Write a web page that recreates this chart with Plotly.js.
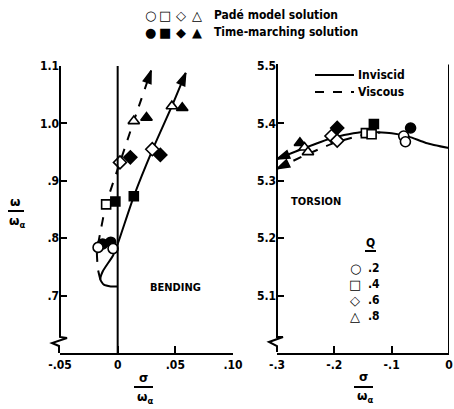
<!DOCTYPE html>
<html>
<head>
<meta charset="utf-8">
<script src="https://cdn.plot.ly/plotly-3.0.1.min.js"></script>
<style>html,body{margin:0;padding:0;background:#fff;}#chart{width:454px;height:409px;}</style>
</head>
<body>
<div id="chart"></div>
<script>
// ---------- data ----------
// Bending panel (x = sigma/omega_alpha, y = omega/omega_alpha)
const bendInvX = [0.000, -0.006, -0.012, -0.015, -0.013, -0.004, 0.000, 0.014, 0.030, 0.047, 0.059];
const bendInvY = [0.716, 0.716, 0.719, 0.728, 0.742, 0.770, 0.790, 0.873, 0.953, 1.030, 1.088];
const bendVisX = [-0.015, -0.017, -0.018, -0.016, -0.010, 0.002, 0.014, 0.029];
const bendVisY = [0.728, 0.745, 0.777, 0.800, 0.859, 0.932, 1.004, 1.092];

// Torsion panel
const torInvX = [-0.300, -0.250, -0.200, -0.150, -0.100, -0.070, -0.040, 0.000];
const torInvY = [5.338, 5.358, 5.376, 5.385, 5.383, 5.377, 5.366, 5.357];
const torVisX = [-0.300, -0.250, -0.200, -0.150, -0.120];
const torVisY = [5.321, 5.345, 5.366, 5.380, 5.384];

// Q values and symbols
const qLabels = [".2", ".4", ".6", ".8"];
const qSymbols = ["circle", "square", "diamond", "triangle-up"];

// Padé model solution (open) – bending
const padeBendX = [[-0.017, -0.004], [-0.010], [0.002, 0.030], [0.014, 0.047]];
const padeBendY = [[0.784, 0.782], [0.859], [0.932, 0.955], [1.004, 1.030]];
// Time-marching solution (filled) – bending
const timeBendX = [[-0.013, -0.006], [-0.002, 0.014], [0.011, 0.037], [0.025, 0.056]];
const timeBendY = [[0.790, 0.793], [0.864, 0.873], [0.941, 0.945], [1.010, 1.027]];

// Padé – torsion
const padeTorX = [[-0.079, -0.076], [-0.145, -0.135], [-0.205, -0.195], [-0.252, -0.246]];
const padeTorY = [[5.378, 5.368], [5.383, 5.381], [5.378, 5.370], [5.358, 5.350]];
// Time-marching – torsion
const timeTorX = [[-0.067], [-0.131], [-0.195], [-0.260]];
const timeTorY = [[5.392], [5.399], [5.392], [5.366]];

// Tick labels
const bendXTicks = [-0.05, 0, 0.05, 0.10];
const bendXText = ["-.05", "0", ".05", ".10"];
const bendYTicks = [0.7, 0.8, 0.9, 1.0, 1.1];
const bendYText = [".7", ".8", ".9", "1.0", "1.1"];
const torXTicks = [-0.3, -0.2, -0.1, 0];
const torXText = ["-.3", "-.2", "-.1", "0"];
const torYTicks = [5.1, 5.2, 5.3, 5.4, 5.5];
const torYText = ["5.1", "5.2", "5.3", "5.4", "5.5"];

// ---------- helpers ----------
const W = 454, H = 409;
const px = v => v / W;
const py = v => 1 - v / H;
const FONT = "Liberation Sans Narrow, Arial Narrow, DejaVu Sans Condensed, sans-serif";
const tf = {family: FONT, size: 12, color: "#000", weight: "bold"};

const traces = [];
function line(xs, ys, xa, ya, dash) {
  traces.push({x: xs, y: ys, xaxis: xa, yaxis: ya, mode: "lines", type: "scatter",
    line: {color: "#000", width: 2, dash: dash, shape: "spline", smoothing: 0.6},
    hoverinfo: "skip", showlegend: false});
}
line(bendInvX, bendInvY, "x", "y", "solid");
line(bendVisX, bendVisY, "x", "y", "dash");
line(torInvX, torInvY, "x2", "y2", "solid");
line(torVisX, torVisY, "x2", "y2", "dash");

// arrowheads at the end of a curve, oriented along the last segment
function arrowHead(xs, ys, xa, ya, atEnd) {
  const n = xs.length;
  const idx = atEnd ? [n - 2, n - 1] : [1, 0];
  traces.push({x: idx.map(i => xs[i]), y: idx.map(i => ys[i]), xaxis: xa, yaxis: ya,
    mode: "markers", type: "scatter", hoverinfo: "skip", showlegend: false,
    marker: {symbol: "arrow", angleref: "previous", size: [0, 13], color: "#000", opacity: 1,
      line: {width: 1.5, color: "#000"}}});
}
arrowHead(bendInvX, bendInvY, "x", "y", true);
arrowHead(bendVisX, bendVisY, "x", "y", true);
arrowHead(torInvX, torInvY, "x2", "y2", false);
arrowHead(torVisX, torVisY, "x2", "y2", false);

function markers(X, Y, xa, ya, open) {
  for (let i = 0; i < qSymbols.length; i++) {
    traces.push({x: X[i], y: Y[i], xaxis: xa, yaxis: ya, mode: "markers", type: "scatter",
      marker: {symbol: qSymbols[i], size: qSymbols[i] === "square" ? 9 : 10, opacity: 1,
        color: open ? "#fff" : "#000", line: {color: "#000", width: 1.6}},
      name: "Q=" + qLabels[i], showlegend: false});
  }
}
markers(timeBendX, timeBendY, "x", "y", false);
markers(padeBendX, padeBendY, "x", "y", true);
markers(timeTorX, timeTorY, "x2", "y2", false);
markers(padeTorX, padeTorY, "x2", "y2", true);

const annotations = [];
function txt(text, x, y, opts) {
  annotations.push(Object.assign({text: text, x: px(x), y: py(y), xref: "paper", yref: "paper",
    showarrow: false, xanchor: "center", yanchor: "middle",
    font: {family: FONT, size: 12, color: "#000", weight: "bold"}}, opts || {}));
}
const gfont = {family: "DejaVu Sans", size: 13, color: "#000"};
const sfont = {family: "DejaVu Sans", size: 12, color: "#000", weight: "bold"};
// top legend
const openGlyph = ["○", "□", "◇", "△"];
const fillGlyph = ["●", "■", "◆", "▲"];
const gx = [150, 165, 181, 197];
for (let i = 0; i < 4; i++) {
  txt(openGlyph[i], gx[i], 15, {font: gfont});
  txt(fillGlyph[i], gx[i], 32, {font: gfont});
}
txt("Padé model solution", 212, 15, {xanchor: "left"});
txt("Time-marching solution", 212, 32, {xanchor: "left"});
// inviscid / viscous legend
txt("Inviscid", 356, 75, {xanchor: "left"});
txt("Viscous", 356, 92, {xanchor: "left"});
// panel labels
txt("BENDING", 175, 287, {font: {family: FONT, size: 11, color: "#000", weight: "bold"}});
txt("TORSION", 316, 202, {font: {family: FONT, size: 11, color: "#000", weight: "bold"}});
// Q legend
txt("Q", 370, 243);
const qy = [268, 284, 300, 316];
for (let i = 0; i < 4; i++) {
  txt(openGlyph[i], 355, qy[i], {font: gfont});
  txt(qLabels[i], 366, qy[i], {xanchor: "left"});
}
// axis titles (fractions)
txt("ω", 15, 202, {font: sfont});
txt("ω<sub>α</sub>", 17, 222, {font: sfont});
txt("σ", 143, 378, {font: sfont});
txt("ω<sub>α</sub>", 145, 398, {font: sfont});
txt("σ", 363, 377, {font: sfont});
txt("ω<sub>α</sub>", 365, 397, {font: sfont});

// ---------- shapes ----------
function pline(x0, y0, x1, y1, dash) {
  return {type: "line", xref: "paper", yref: "paper", x0: px(x0), y0: py(y0), x1: px(x1), y1: py(y1),
    line: {color: "#000", width: 2, dash: dash || "solid"}};
}
function ppath(pts) {
  let d = "";
  pts.forEach((p, i) => { d += (i ? " L " : "M ") + px(p[0]).toFixed(5) + "," + py(p[1]).toFixed(5); });
  return {type: "path", xref: "paper", yref: "paper", path: d, line: {color: "#000", width: 2}};
}
const shapes = [
  // y axes with break zigzags
  ppath([[60, 66], [60, 337], [67, 338], [52, 343], [59, 346], [59, 353]]),
  ppath([[277, 64], [277, 337], [283, 337], [269, 342], [277, 346], [277, 352]]),
  // zero line in bending panel
  {type: "line", xref: "x", yref: "y domain", x0: 0, x1: 0, y0: 0, y1: 1, line: {color: "#000", width: 2}},
  // right border of torsion panel
  {type: "line", xref: "x2", yref: "y2 domain", x0: 0, x1: 0, y0: 0, y1: 1.005, line: {color: "#000", width: 2}},
  // fraction bars
  pline(8, 211, 24, 211),
  pline(134, 387, 153, 387),
  pline(354, 387, 373, 387),
  // Q underline
  pline(365, 251, 376, 251),
  // legend lines
  pline(315, 75, 354, 75),
  pline(315, 92, 354, 92, "dash"),
];

const xdom1 = [px(60), px(233)], xdom2 = [px(277), px(449)];
const ydom = [py(353), py(66)];
const axBase = {showgrid: false, zeroline: false, ticks: "inside", ticklen: 7, tickwidth: 2,
  tickcolor: "#000", tickfont: tf, tickmode: "array", fixedrange: true, automargin: false};

const layout = {
  width: W, height: H, margin: {l: 0, r: 0, t: 0, b: 0},
  paper_bgcolor: "#fff", plot_bgcolor: "rgba(0,0,0,0)", showlegend: false,
  xaxis: Object.assign({}, axBase, {domain: xdom1, range: [-0.05, 0.1], tickvals: bendXTicks, ticktext: bendXText,
    showline: true, linewidth: 2, linecolor: "#000", anchor: "y"}),
  yaxis: Object.assign({}, axBase, {domain: ydom, range: [0.6, 1.1], tickvals: bendYTicks, ticktext: bendYText,
    showline: false, anchor: "x"}),
  xaxis2: Object.assign({}, axBase, {domain: xdom2, range: [-0.3, 0], tickvals: torXTicks, ticktext: torXText,
    showline: true, linewidth: 2, linecolor: "#000", anchor: "y2"}),
  yaxis2: Object.assign({}, axBase, {domain: ydom, range: [5.0, 5.5], tickvals: torYTicks, ticktext: torYText,
    showline: false, anchor: "x2"}),
  annotations: annotations,
  shapes: shapes,
};

Plotly.newPlot("chart", traces, layout, {staticPlot: true, displayModeBar: false});
</script>
</body>
</html>
